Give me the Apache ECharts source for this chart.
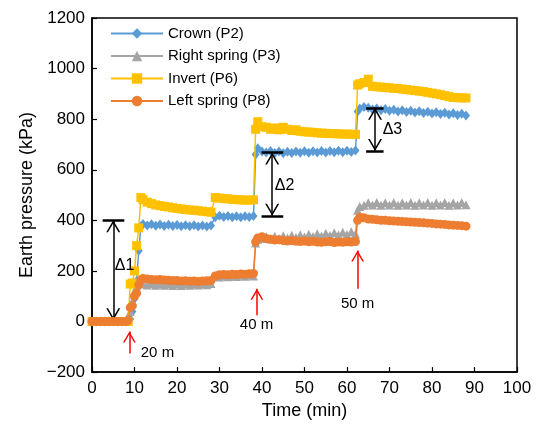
<!DOCTYPE html>
<html><head><meta charset="utf-8">
<script src="https://cdn.jsdelivr.net/npm/echarts@6/dist/echarts.min.js"></script>
<style>html,body{margin:0;padding:0;background:#fff}#c{width:537px;height:425px}</style>
</head><body><div id="c"></div>
<script>
// ---- data ----
const times = [0,1,2,3,4,5,6,7,8,
  8.5,9,9.5,10,10.5,11,11.5,
  12,13,14,15,16,17,18,19,20,21,22,23,24,25,26,27,28,
  29,30,31,32,33,34,35,36,37,38,
  38.5,
  39,40,41,42,43,44,45,46,47,48,49,50,51,52,53,54,55,56,57,58,59,60,61,62,
  62.5,
  63,64,65,66,67,68,69,70,71,72,73,74,75,76,77,78,79,80,81,82,83,84,85,86,87,88];

const crownP2 = [0,0,0,0,0,0,0,0,0,
  2,10,40,90,160,280,375,
  386,380,385,379,384,378,383,378,382,377,381,377,381,376,380,376,380,
  412,418,413,417,412,416,412,416,413,417,
  660,
  685,672,668,674,666,672,665,671,666,672,667,673,667,673,668,674,668,674,669,675,669,675,670,676,
  830,
  842,848,845,838,842,835,840,833,837,830,835,828,833,826,831,824,829,822,827,820,825,818,823,816,821,815];

const rightSpringP3 = [0,0,0,0,0,0,0,0,0,
  5,40,80,120,140,150,148,
  150,144,150,143,149,143,148,142,148,142,148,143,149,144,150,145,150,
  178,176,181,177,182,178,183,179,184,180,
  310,
  325,328,335,326,337,328,339,330,341,332,343,334,345,336,347,338,349,340,351,342,353,344,355,346,
  440,
  455,460,470,461,471,460,470,461,471,460,470,461,471,460,470,461,471,460,470,461,471,460,470,461,471,462];

const invertP6 = [0,0,0,0,0,0,0,0,0,
  0,148,152,200,300,370,490,
  482,472,466,461,458,455,453,450,447,445,443,441,440,438,436,434,432,
  490,488,486,485,483,482,481,480,480,481,
  760,
  790,770,768,760,765,758,768,760,755,758,752,750,749,748,746,745,744,743,743,742,741,741,740,740,
  935,
  940,945,958,930,928,927,925,924,922,921,919,917,915,913,911,909,906,903,900,897,893,889,886,885,884,884];

const leftSpringP8 = [0,0,0,0,0,0,0,0,0,
  5,55,62,100,112,145,165,
  170,168,166,165,166,164,163,162,162,160,161,159,160,158,160,161,162,
  180,185,186,185,187,186,188,187,189,190,
  315,
  330,335,328,325,322,323,320,318,320,317,316,318,315,317,314,313,315,316,312,314,313,315,314,316,
  400,
  412,410,405,404,402,400,400,398,397,396,395,394,393,392,391,390,389,388,386,385,384,382,381,380,379,377];

const seriesNames = ['Crown (P2)', 'Right spring (P3)', 'Invert (P6)', 'Left spring (P8)'];
const seriesValues = [crownP2, rightSpringP3, invertP6, leftSpringP8];

const xTicks = {min: 0, max: 100, step: 10};
const yTicks = {min: -200, max: 1200, step: 200};

// annotations (data units): [time, fromValue, toValue]
const deltaArrows = [[5.0, 5, 400], [42.4, 418, 668], [66.6, 674, 845]];
// caps: [tStart, tEnd, value]
const deltaCaps = [[2.5, 7.6, 400], [2.3, 7.4, 5], [39.9, 45.0, 668], [39.9, 45.0, 418], [64.5, 68.6, 845], [64.5, 68.6, 674]];
const deltaLabels = [['Δ1', 7.65, 222], ['Δ2', 45.3, 537], ['Δ3', 70.7, 760]];
const redArrows = [[8.8, -126, -39], [38.8, 25, 130], [62.5, 130, 281]];
const redLabels = [['20 m', 15.4, -122], ['40 m', 38.7, -15], ['50 m', 62.5, 71]];

// ---- styles ----
const FONT = "'Liberation Sans', Arial, sans-serif";
const colors = ['#5B9BD5', '#A5A5A5', '#FFC000', '#ED7D31'];
const symbols = ['diamond', 'triangle', 'rect', 'circle'];
const symbolSizes = [[8, 10], 9, 9, 9];
const chevron = 'path://M0,0L24,0L24,0.02L0,0.02Z M12,12L19,24L17.26,24L12,15L6.74,24L5,24Z';

const mainSeries = seriesNames.map((name, i) => ({
  name, type: 'line',
  data: times.map((t, k) => [t, seriesValues[i][k]]),
  symbol: symbols[i], symbolSize: symbolSizes[i], showSymbol: true, showAllSymbol: true,
  lineStyle: {color: colors[i], width: 1.5},
  itemStyle: {color: colors[i], borderWidth: 0},
  emphasis: {disabled: true}, z: 2 + i
}));

const helper = [
  { type: 'line', data: [], silent: true, z: 10,
    markLine: { silent: true, symbol: [chevron, chevron], symbolSize: 24, animation: false,
      label: {show: false}, emphasis: {disabled: true},
      lineStyle: {color: '#000', width: 1.5, type: 'solid'},
      data: deltaArrows.map(a => [{coord: [a[0], a[1]]}, {coord: [a[0], a[2]]}]) } },
  { type: 'line', data: [], silent: true, z: 10,
    markLine: { silent: true, symbol: ['none', 'none'], animation: false,
      label: {show: false}, emphasis: {disabled: true},
      lineStyle: {color: '#000', width: 2.5, type: 'solid'},
      data: deltaCaps.map(c => [{coord: [c[0], c[2]]}, {coord: [c[1], c[2]]}]) } },
  { type: 'line', data: [], silent: true, z: 10,
    markLine: { silent: true, symbol: ['none', chevron], symbolSize: 22, animation: false,
      label: {show: false}, emphasis: {disabled: true},
      lineStyle: {color: '#FF0000', width: 1.5, type: 'solid'},
      data: redArrows.map(a => [{coord: [a[0], a[1]]}, {coord: [a[0], a[2]]}]) },
    markPoint: { silent: true, symbol: 'circle', symbolSize: 0, animation: false,
      itemStyle: {color: 'rgba(0,0,0,0)'},
      label: {show: true, position: 'inside', formatter: '{b}', color: '#000', fontSize: 15, fontFamily: FONT},
      data: redLabels.map(l => ({name: l[0], coord: [l[1], l[2]]}))
        .concat(deltaLabels.map(l => ({name: l[0], coord: [l[1], l[2]], label: {fontSize: 16}}))) } }
];

const chart = echarts.init(document.getElementById('c'), null, {renderer: 'canvas'});
chart.setOption({
  animation: false,
  backgroundColor: '#fff',
  textStyle: {fontFamily: FONT},
  grid: {left: 92, right: 20, top: 18, bottom: 51, show: true, borderColor: '#000', borderWidth: 1.5, backgroundColor: 'transparent'},
  legend: {
    data: seriesNames, orient: 'vertical', left: 105, top: 21,
    itemWidth: 52, itemHeight: 13, itemGap: 7.5,
    textStyle: {fontSize: 15, color: '#000', fontFamily: FONT}
  },
  xAxis: {
    type: 'value', min: xTicks.min, max: xTicks.max, interval: xTicks.step,
    name: 'Time (min)', nameLocation: 'middle', nameGap: 28,
    nameTextStyle: {fontSize: 18, color: '#000', fontFamily: FONT},
    axisLine: {onZero: false, lineStyle: {color: '#000', width: 1.5}},
    axisTick: {inside: true, length: 5, lineStyle: {color: '#000', width: 1.2}},
    axisLabel: {fontSize: 17, color: '#000', margin: 8, fontFamily: FONT},
    splitLine: {show: false}
  },
  yAxis: {
    type: 'value', min: yTicks.min, max: yTicks.max, interval: yTicks.step,
    name: 'Earth pressure (kPa)', nameLocation: 'middle', nameGap: 55,
    nameTextStyle: {fontSize: 18, color: '#000', fontFamily: FONT},
    axisLine: {show: true, onZero: false, lineStyle: {color: '#000', width: 1.5}},
    axisTick: {show: true, inside: true, length: 5, lineStyle: {color: '#000', width: 1.2}},
    axisLabel: {fontSize: 17, color: '#000', margin: 7, fontFamily: FONT,
      formatter: v => String(v).replace('-', '\u2212')},
    splitLine: {show: false}
  },
  series: mainSeries.concat(helper)
});
</script>
</body></html>
